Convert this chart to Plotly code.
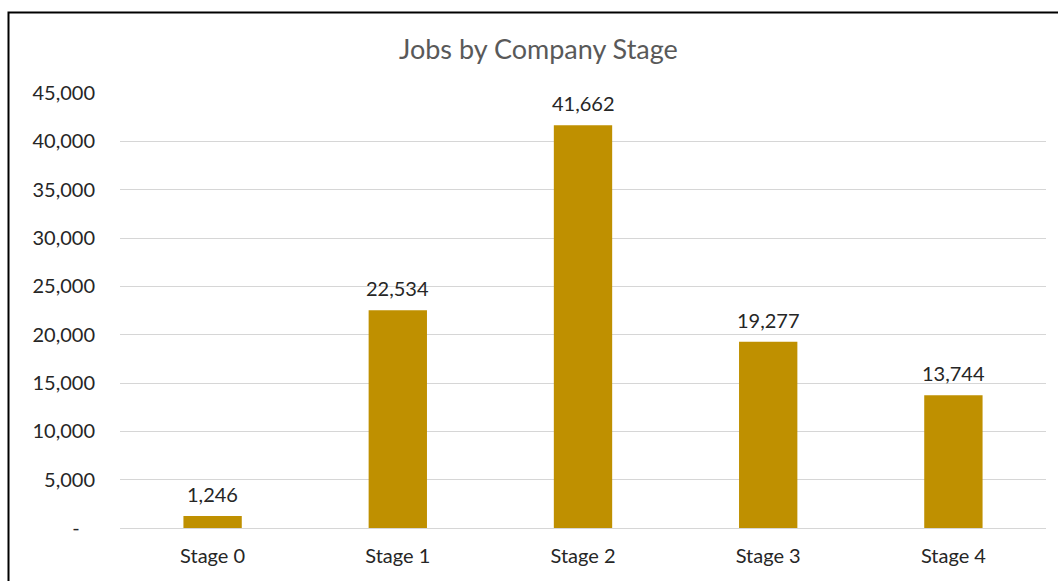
import plotly.graph_objects as go

# Job counts per company stage
stages = ["Stage 0", "Stage 1", "Stage 2", "Stage 3", "Stage 4"]
jobs = [1246, 22534, 41662, 19277, 13744]

# Y axis ticks (accounting style: zero shown as a dash)
y_tick_vals = [0, 5000, 10000, 15000, 20000, 25000, 30000, 35000, 40000, 45000]
y_tick_text = ["-\u00a0\u00a0\u00a0", "5,000", "10,000", "15,000", "20,000",
               "25,000", "30,000", "35,000", "40,000", "45,000"]

FONT = "Lato"
BAR_COLOR = "#BF9000"
GRID_COLOR = "#D6D6D6"
TEXT_COLOR = "#262626"

fig = go.Figure(
    go.Bar(
        x=stages,
        y=jobs,
        marker=dict(color=BAR_COLOR, line=dict(width=0)),
        hoverinfo="x+y",
    )
)

# value labels above each bar
value_labels = [
    dict(
        x=s, y=v, xref="x", yref="y",
        text=f"{v:,}",
        showarrow=False,
        xanchor="center", yanchor="bottom",
        yshift=8,
        font=dict(family=FONT, size=20, color=TEXT_COLOR),
    )
    for s, v in zip(stages, jobs)
]

title_annotation = dict(
    text="Jobs by Company Stage",
    xref="paper", yref="paper",
    x=(538.5 - 120) / 926, y=1 + (93 - 48) / 435,
    xanchor="center", yanchor="middle",
    showarrow=False,
    font=dict(family=FONT, size=27, color="#595959"),
)

fig.update_layout(
    width=1058,
    height=581,
    margin=dict(l=120, r=12, t=93, b=53),
    paper_bgcolor="white",
    plot_bgcolor="white",
    bargap=0.685,
    showlegend=False,
    font=dict(family=FONT, size=20, color=TEXT_COLOR),
    annotations=[title_annotation] + value_labels,
    shapes=[
        # chart frame (top and left edges visible)
        dict(
            type="rect", xref="paper", yref="paper",
            x0=(8.5 - 120) / 926, x1=(1080 - 120) / 926,
            y0=-(600 - 528) / 435, y1=1 + (93 - 12.5) / 435,
            line=dict(color="black", width=2),
            fillcolor="rgba(0,0,0,0)",
            layer="above",
        )
    ],
)

fig.update_xaxes(
    showgrid=False,
    showline=False,
    ticks="",
    tickfont=dict(family=FONT, size=20, color=TEXT_COLOR),
    ticklabelstandoff=14,
)

fig.update_yaxes(
    range=[0, 45000],
    tickvals=y_tick_vals,
    ticktext=y_tick_text,
    showgrid=True,
    gridcolor=GRID_COLOR,
    gridwidth=1.4,
    zeroline=True,
    zerolinecolor=GRID_COLOR,
    zerolinewidth=1.4,
    showline=False,
    ticks="",
    tickfont=dict(family=FONT, size=20, color=TEXT_COLOR),
    ticklabelstandoff=24,
)

fig.write_html("out.html")
